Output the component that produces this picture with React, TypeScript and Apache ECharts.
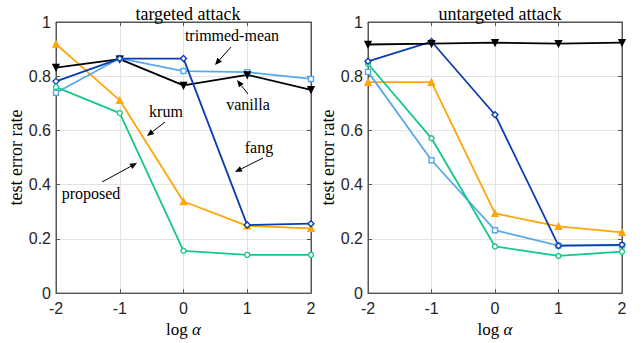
import React, { useEffect, useRef } from "react";
import * as echarts from "echarts";

const logAlpha = [-2, -1, 0, 1, 2];
const yTicks = [0, 0.2, 0.4, 0.6, 0.8, 1];

// targeted attack
const tVanilla = [0.832, 0.863, 0.766, 0.805, 0.75];
const tTrimmed = [0.739, 0.866, 0.819, 0.815, 0.79];
const tFang = [0.781, 0.865, 0.865, 0.251, 0.256];
const tKrum = [0.919, 0.711, 0.338, 0.248, 0.239];
const tProposed = [0.76, 0.664, 0.156, 0.141, 0.141];

// untargeted attack
const uVanilla = [0.917, 0.92, 0.924, 0.92, 0.924];
const uTrimmed = [0.816, 0.49, 0.232, 0.175, 0.176];
const uFang = [0.855, 0.928, 0.658, 0.175, 0.178];
const uKrum = [0.778, 0.778, 0.294, 0.246, 0.224];
const uProposed = [0.846, 0.571, 0.172, 0.137, 0.153];

const panelTitles = ["targeted attack", "untargeted attack"];

const COLORS = {
  vanilla: "#000000",
  trimmed: "#58A9EC",
  fang: "#0A3DB0",
  krum: "#FFA50A",
  proposed: "#14C88A",
};

const SERIF = "Liberation Serif";
const SANS = "Liberation Sans";

function arrow(x1: number, y1: number, x2: number, y2: number) {
  const dx = x2 - x1;
  const dy = y2 - y1;
  const len = Math.sqrt(dx * dx + dy * dy);
  const ux = dx / len;
  const uy = dy / len;
  const hl = 7;
  const hw = 3;
  const bx = x2 - ux * hl;
  const by = y2 - uy * hl;
  return [
    {
      type: "line",
      shape: { x1, y1, x2: bx, y2: by },
      style: { stroke: "#000", lineWidth: 1 },
      z: 100,
    },
    {
      type: "polygon",
      shape: {
        points: [
          [x2, y2],
          [bx - uy * hw, by + ux * hw],
          [bx + uy * hw, by - ux * hw],
        ],
      },
      style: { fill: "#000" },
      z: 100,
    },
  ];
}

function label(text: string, x: number, y: number) {
  return {
    type: "text",
    x,
    y,
    z: 100,
    style: {
      text,
      fontFamily: SERIF,
      fontSize: 16,
      fill: "#000",
      align: "center",
      verticalAlign: "middle",
    },
  };
}

export default function App() {
  const ref = useRef<HTMLDivElement>(null);
  useEffect(() => {
    if (!ref.current) return;
    const chart = echarts.init(ref.current, undefined, { renderer: "svg" });

    const grids = [
      { left: 56, right: 331, top: 22, bottom: 49 },
      { left: 368, right: 20, top: 22, bottom: 49 },
    ];
    const grid = grids.map((g) => ({
      ...g,
      show: true,
      borderColor: "#555",
      borderWidth: 1,
      backgroundColor: "transparent",
    }));

    const axisLine = { show: true, onZero: false, lineStyle: { color: "#555", width: 1 } };
    const axisTick = { show: true, inside: true, length: 4, lineStyle: { color: "#555" } };

    const xAxis: any[] = [];
    const yAxis: any[] = [];
    [0, 1].forEach((i) => {
      xAxis.push({
        type: "value",
        gridIndex: i,
        min: -2,
        max: 2,
        interval: 1,
        position: "bottom",
        name: "{n|log }{a|α}",
        nameLocation: "middle",
        nameGap: 25,
        nameTextStyle: {
          rich: {
            n: { fontFamily: SERIF, fontSize: 17, color: "#000" },
            a: { fontFamily: SERIF, fontSize: 17, fontStyle: "italic", color: "#000" },
          },
        },
        axisLine,
        axisTick,
        axisLabel: { fontFamily: SANS, fontSize: 16, color: "#262626", margin: 7 },
        splitLine: { show: true, lineStyle: { color: "#e3e3e3", width: 1 } },
      });
      xAxis.push({
        type: "value",
        gridIndex: i,
        min: -2,
        max: 2,
        interval: 1,
        position: "top",
        axisLine,
        axisTick,
        axisLabel: { show: false },
        splitLine: { show: false },
      });
      yAxis.push({
        type: "value",
        gridIndex: i,
        min: yTicks[0],
        max: yTicks[yTicks.length - 1],
        interval: 0.2,
        position: "left",
        name: "test error rate",
        nameLocation: "middle",
        nameGap: 29,
        nameTextStyle: { fontFamily: SERIF, fontSize: 18, color: "#000" },
        axisLine,
        axisTick,
        axisLabel: { fontFamily: SANS, fontSize: 16, color: "#262626", margin: 5 },
        splitLine: { show: true, lineStyle: { color: "#e3e3e3", width: 1 } },
      });
      yAxis.push({
        type: "value",
        gridIndex: i,
        min: yTicks[0],
        max: yTicks[yTicks.length - 1],
        interval: 0.2,
        position: "right",
        axisLine,
        axisTick,
        axisLabel: { show: false },
        splitLine: { show: false },
      });
    });

    const mk = (
      name: string,
      values: number[],
      color: string,
      symbol: string,
      filled: boolean,
      panel: number,
      size = 6
    ) => ({
      type: "line",
      name,
      xAxisIndex: panel * 2,
      yAxisIndex: panel * 2,
      data: values.map((v, k) => [logAlpha[k], v]),
      symbol,
      symbolSize: size,
      showSymbol: true,
      lineStyle: { color, width: 1.8 },
      itemStyle: { color: filled ? color : "#fff", borderColor: color, borderWidth: 1.4 },
      emphasis: { disabled: true },
    });

    const series: any[] = [];
    [0, 1].forEach((i) => {
      const defs =
        i === 0
          ? [
              ["krum", tKrum, COLORS.krum, "triangle", true, 6],
              ["trimmed-mean", tTrimmed, COLORS.trimmed, "rect", false, 5],
              ["vanilla", tVanilla, COLORS.vanilla, "triangle", true, 6],
              ["fang", tFang, COLORS.fang, "diamond", false, 6],
              ["proposed", tProposed, COLORS.proposed, "circle", false, 5],
            ]
          : [
              ["krum", uKrum, COLORS.krum, "triangle", true, 6],
              ["trimmed-mean", uTrimmed, COLORS.trimmed, "rect", false, 5],
              ["proposed", uProposed, COLORS.proposed, "circle", false, 5],
              ["fang", uFang, COLORS.fang, "diamond", false, 6],
              ["vanilla", uVanilla, COLORS.vanilla, "triangle", true, 6],
            ];
      defs.forEach((d: any) => {
        const s: any = mk(d[0], d[1], d[2], d[3], d[4], i, d[5]);
        if (d[0] === "vanilla") s.symbolRotate = 180;
        series.push(s);
      });
    });

    const graphic: any[] = [
      label("trimmed-mean", 232, 35),
      ...arrow(231, 47, 215, 65),
      label("vanilla", 248, 104),
      ...arrow(248, 94, 237, 80),
      label("krum", 166, 111),
      ...arrow(165, 122, 147, 136),
      label("fang", 259, 147),
      ...arrow(263, 158, 235, 172),
      label("proposed", 91, 193),
      ...arrow(102, 182, 137, 163),
    ];

    chart.setOption({
      animation: false,
      backgroundColor: "#fff",
      title: panelTitles.map((t, i) => ({
        text: t,
        left: i === 0 ? 183 : 495,
        top: 0,
        textAlign: "center",
        textStyle: { fontFamily: SERIF, fontSize: 18, fontWeight: "normal", color: "#000" },
      })),
      grid,
      xAxis,
      yAxis,
      series,
      graphic,
    });
    return () => chart.dispose();
  }, []);
  return <div ref={ref} style={{ width: 642, height: 343, position: "absolute", left: 0, top: 0 }} />;
}
